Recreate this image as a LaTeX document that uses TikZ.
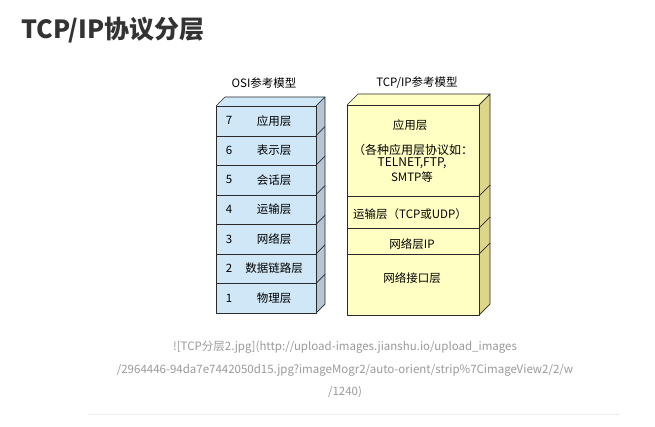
\documentclass[tikz,border=0pt]{standalone}
\usepackage{fontspec}
\setmainfont{Noto Sans CJK SC}
\definecolor{osifill}{HTML}{CFE7F7}
\definecolor{osiside}{HTML}{B4C6D4}
\definecolor{tcpfill}{HTML}{FFFFC4}
\definecolor{tcpside}{HTML}{DDD68A}
\definecolor{edge}{HTML}{2A2A2A}
\definecolor{titlec}{HTML}{333333}
\definecolor{capc}{HTML}{9A9A9A}
\definecolor{rulec}{HTML}{EEEEEE}
\tikzset{
  boxline/.style={draw=edge, line width=0.7pt, line join=round},
  osirow/.style={boxline, fill=osifill, minimum width=100pt, minimum height=29.57pt, anchor=north west, inner sep=0pt},
  tcprow/.style={boxline, fill=tcpfill, minimum width=132pt, anchor=north west, inner sep=0pt},
  lbl/.style={font=\fontsize{11.5}{13}\selectfont, text=black, inner sep=0pt},
  captext/.style={font=\fontsize{11.5}{14}\selectfont, text=capc, inner sep=0pt}
}
\begin{document}
\begin{tikzpicture}[x=1pt,y=-1pt]
\useasboundingbox (0,0) rectangle (655,427);
\fill[white] (0,0) rectangle (655,427);
% title
\node[anchor=west, inner sep=0pt, text=titlec, font=\fontsize{25}{28}\bfseries] (title) at (21,30) {TCP/IP协议分层};
% OSI model
\node[lbl] (osilabel) at (264,83) {OSI参考模型};
\fill[osifill] (216,106) -- (225,97) -- (325,97) -- (316,106) -- cycle;
\draw[boxline] (216,106) -- (225,97) -- (325,97) -- (316,106);
\filldraw[boxline, fill=osiside] (316,106) -- (325,97) -- (325,304) -- (316,313) -- cycle;
\foreach \i/\n/\t in {0/7/应用层,1/6/表示层,2/5/会话层,3/4/运输层,4/3/网络层,5/2/数据链路层,6/1/物理层}{
  \node[osirow] (osi\n) at (216,{106+\i*29.57}) {};
  \node[lbl] (osinum\n) at (229,{106+\i*29.57+14.8}) {\n};
  \node[lbl] (osiname\n) at (274,{106+\i*29.57+14.8}) {\t};
}
\foreach \i in {1,...,6}{
  \draw[boxline] (316,{106+\i*29.57}) -- (325,{97+\i*29.57});
}
% TCP/IP model
\node[lbl] (tcplabel) at (417,83) {TCP/IP参考模型};
\fill[tcpfill] (347,105) -- (358,94) -- (490,94) -- (479,105) -- cycle;
\draw[boxline] (347,105) -- (358,94) -- (490,94) -- (479,105);
\filldraw[boxline, fill=tcpside] (479,105) -- (490,94) -- (490,304) -- (479,315) -- cycle;
\node[tcprow, minimum height=91pt] (app) at (347,105) {};
\node[tcprow, minimum height=32pt] (trans) at (347,196) {};
\node[tcprow, minimum height=26pt] (net) at (347,228) {};
\node[tcprow, minimum height=61pt] (link) at (347,254) {};
\foreach \y in {196,228,254}{
  \draw[boxline] (479,\y) -- (490,{\y-11});
}
\node[lbl] (appname) at (410,125) {应用层};
\node[lbl, font=\fontsize{12}{14}\selectfont] (appd1) at (413,150) {（各种应用层协议如：};
\node[lbl, font=\fontsize{12}{14}\selectfont] (appd2) at (412,163) {TELNET,FTP,};
\node[lbl] (appd3) at (412,177) {SMTP等};
\node[lbl] (transname) at (410,214) {运输层（TCP或UDP）};
\node[lbl] (netname) at (412,244) {网络层IP};
\node[lbl] (linkname) at (412,278) {网络接口层};
% caption
\node[captext] (cap1) at (345,347) {![TCP分层2.jpg](http://upload-images.jianshu.io/upload\_images};
\node[captext] (cap2) at (345,370) {/2964446-94da7e7442050d15.jpg?imageMogr2/auto-orient/strip\%7CimageView2/2/w};
\node[captext] (cap3) at (345,392) {/1240)};
\draw[rulec, line width=1pt] (88,414) -- (620,414);
\end{tikzpicture}
\end{document}
